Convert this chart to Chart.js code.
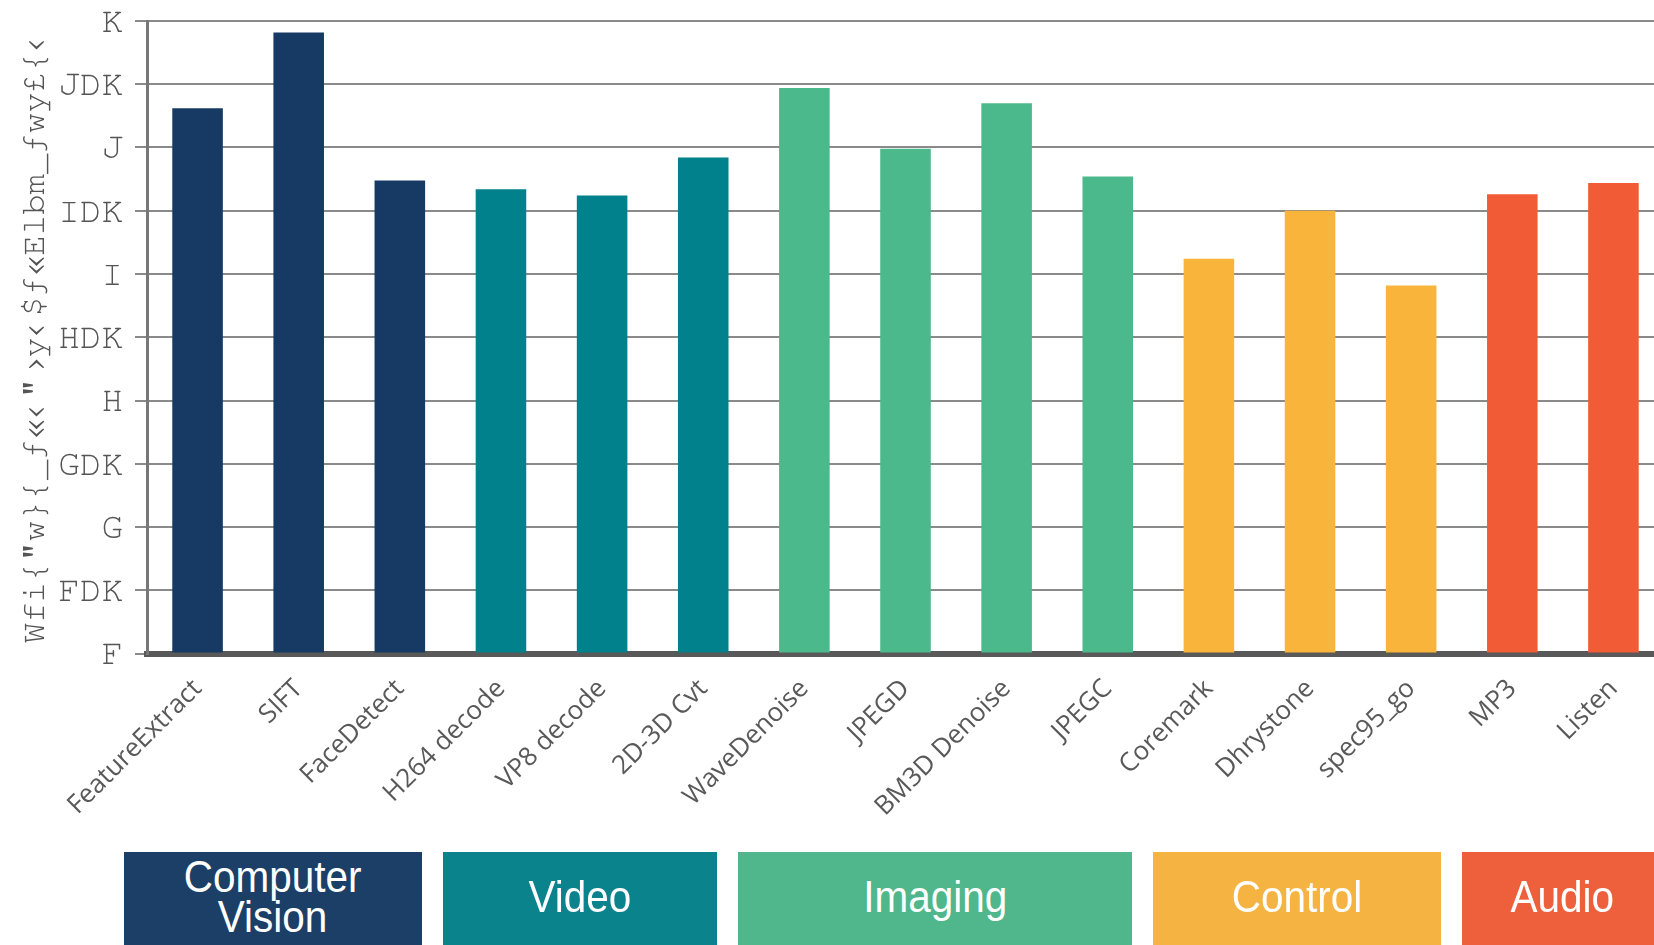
<!DOCTYPE html>
<html>
<head>
<meta charset="utf-8">
<script src="https://cdn.jsdelivr.net/npm/chart.js@4.4.1/dist/chart.umd.min.js"></script>
<style>
  html, body { margin: 0; padding: 0; background: #fff; overflow: hidden; width: 1654px; height: 945px; }
  #wrap { position: relative; width: 1654px; height: 945px; overflow: hidden; }
  canvas { position: absolute; left: 0; top: 0; }
  .box { position: absolute; top: 852px; height: 100px; color: #fff;
         font-family: "Liberation Sans", Arial, sans-serif; font-size: 44px;
         display: flex; align-items: center; justify-content: center; text-align: center;
         line-height: 40px; box-sizing: border-box; padding-bottom: 10px; }
  .box span { display: inline-block; transform: scaleX(0.92); }
</style>
</head>
<body>
<div id="wrap">
  <canvas id="c" width="1664" height="945"></canvas>
  <div id="boxes"></div>
</div>
<script>
const categories = ['FeatureExtract','SIFT','FaceDetect','H264 decode','VP8 decode','2D-3D Cvt','WaveDenoise','JPEGD','BM3D Denoise','JPEGC','Coremark','Dhrystone','spec95_go','MP3','Listen'];
const values = [4.31, 4.91, 3.74, 3.67, 3.62, 3.92, 4.47, 3.99, 4.35, 3.77, 3.12, 3.50, 2.91, 3.63, 3.72];
const groupNames = ['Computer<br>Vision','Video','Imaging','Control','Audio'];
const groupOf = [0,0,0,1,1,1,2,2,2,2,3,3,3,4,4];
const barColors = ['#173a64','#00818b','#4bb98b','#f9b53b','#f15c37'];
const boxColors = ['#1c3f67','#0b838d','#4fb78b','#f5b342','#ee603c'];
const yTickLabels = ['F','FDK','G','GDK','H','HDK','I','IDK','J','JDK','K'];
const yTitle = 'Wfi{"w}{_ƒ«‹"›y‹$ƒ«Elbm_ƒwy£{‹';

// group boxes (annotation layout)
const boxLayout = [[124,298],[443,274],[738,394],[1153,288],[1462,200]];
const boxesEl = document.getElementById('boxes');
groupNames.forEach((g,i)=>{
  const d = document.createElement('div');
  d.className = 'box';
  d.style.left = boxLayout[i][0] + 'px';
  d.style.width = boxLayout[i][1] + 'px';
  d.style.background = boxColors[i];
  d.innerHTML = '<span>' + g + '</span>';
  boxesEl.appendChild(d);
});

const monoFont = '"Nimbus Mono PS", "FreeMono", "Courier New", Courier, "Liberation Mono", monospace';

new Chart(document.getElementById('c'), {
  type: 'bar',
  data: {
    labels: categories,
    datasets: [{
      data: values,
      backgroundColor: values.map((v,i)=>barColors[groupOf[i]]),
      borderWidth: 0,
      barPercentage: 0.5,
      categoryPercentage: 1.0
    }]
  },
  options: {
    responsive: false,
    animation: false,
    devicePixelRatio: 1,
    layout: { padding: { top: 21, right: 0, bottom: 0, left: 0 } },
    plugins: { legend: { display: false }, tooltip: { enabled: false } },
    scales: {
      x: {
        grid: { display: false, drawTicks: false },
        border: { display: true, color: '#595959', width: 6 },
        ticks: {
          autoSkip: false, minRotation: 45, maxRotation: 45, padding: 20,
          color: '#595959',
          font: { family: '"Open Sans", Lato, sans-serif', size: 26 }
        },
        afterFit(scale) { scale.height = 291.5; }
      },
      y: {
        min: 0, max: 5,
        ticks: {
          stepSize: 0.5,
          padding: 12,
          color: '#555555',
          font: { family: monoFont, size: 36 },
          callback: (v) => yTickLabels[Math.round(v * 2)]
        },
        grid: { color: '#8a8a8a', lineWidth: 2, tickLength: 12, tickColor: '#8a8a8a', tickWidth: 2 },
        border: { display: true, color: '#777777', width: 3 },
        title: {
          display: true, text: yTitle, color: '#555555',
          font: { family: monoFont, size: 34 },
          padding: { top: 13, bottom: 0 }
        },
        afterFit(scale) { scale.width = 147; scale.paddingTop = 0; scale.paddingBottom = 0; }
      }
    }
  }
});
</script>
</body>
</html>
